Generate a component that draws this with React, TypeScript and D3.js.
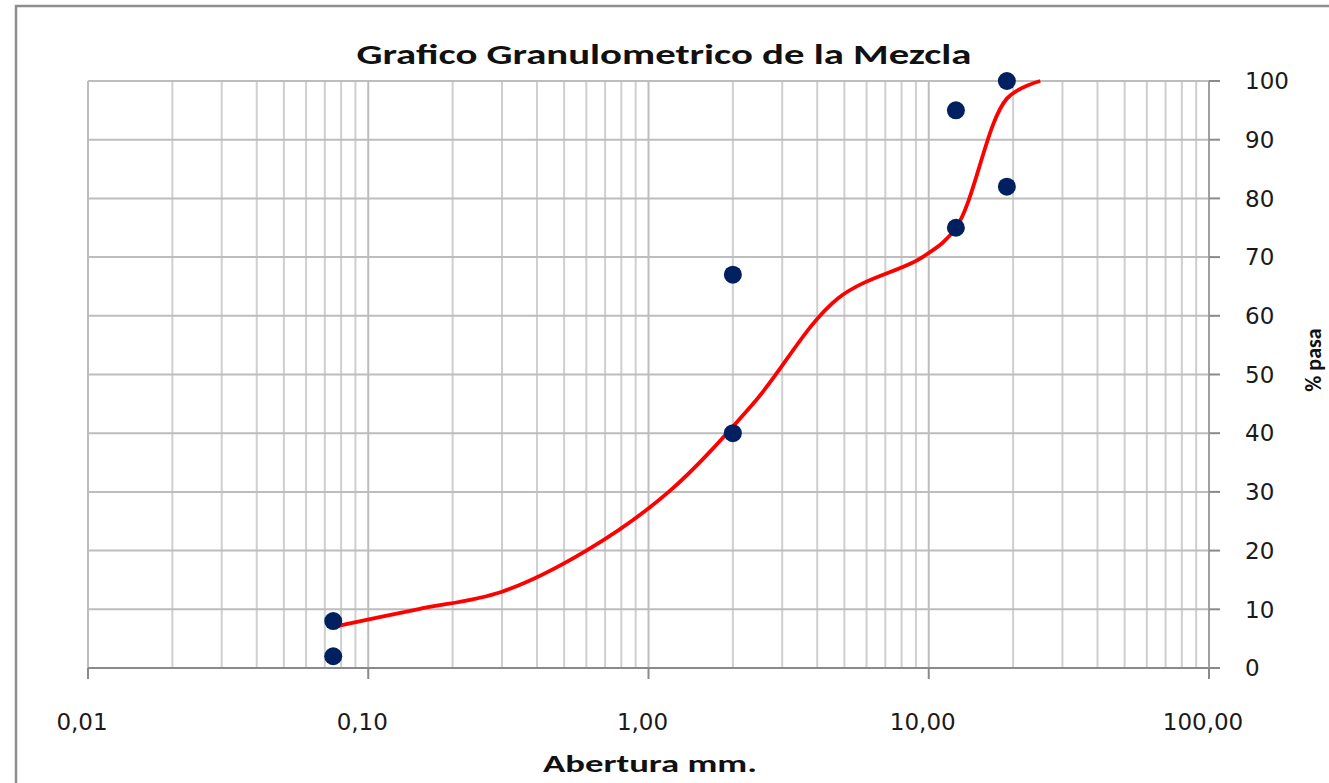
import React from "react";
import * as d3 from "d3";

const curveSizes = [0.075, 0.15, 0.3, 0.6, 1.18, 2.36, 4.75, 9.5, 12.5, 19, 25];
const curvePass = [7, 10, 13, 20, 30, 45, 63, 70, 75, 97, 100];

const limitSizes = [0.075, 0.075, 2, 2, 12.5, 12.5, 19, 19];
const limitPass = [8, 2, 67, 40, 95, 75, 100, 82];

const xTickValues = [0.01, 0.1, 1, 10, 100];
const xTickLabels = ["0,01", "0,10", "1,00", "10,00", "100,00"];
const yTickValues = [0, 10, 20, 30, 40, 50, 60, 70, 80, 90, 100];

const W = 1329;
const H = 783;
const M = { left: 88, right: 1209, top: 81, bottom: 668 };

export default function App() {
  const x = d3.scaleLog().domain([0.01, 100]).range([M.left, M.right]);
  const y = d3.scaleLinear().domain([0, 100]).range([M.bottom, M.top]);

  const minor: number[] = [];
  for (let e = -2; e < 2; e++) {
    for (let k = 2; k <= 9; k++) {
      minor.push(k * Math.pow(10, e));
    }
  }

  const line = d3
    .line<number>()
    .x((_, i) => x(curveSizes[i]))
    .y((d) => y(d))
    .curve(d3.curveCatmullRom.alpha(0.5));

  const grid = "#bdbdbd";
  const tickFont = "'DejaVu Sans', Verdana, sans-serif";
  const boldFont = "'Carlito', 'Liberation Sans Narrow', 'Open Sans', sans-serif";

  return (
    <svg
      width={W}
      height={H}
      style={{ position: "absolute", left: 0, top: 0, background: "#fff" }}
    >
      <rect x={16} y={6} width={W} height={H} fill="#fff" stroke="#8e8e8e" strokeWidth={2.5} />

      {/* minor vertical grid */}
      {minor.map((v, i) => (
        <line key={"m" + i} x1={x(v)} x2={x(v)} y1={M.top} y2={M.bottom} stroke="#cfcfcf" strokeWidth={2} />
      ))}
      {/* major vertical grid */}
      {xTickValues.map((v, i) => (
        <line key={"M" + i} x1={x(v)} x2={x(v)} y1={M.top} y2={M.bottom} stroke={grid} strokeWidth={2} />
      ))}
      {/* horizontal grid */}
      {yTickValues.map((v, i) => (
        <line key={"h" + i} x1={M.left} x2={M.right} y1={y(v)} y2={y(v)} stroke={grid} strokeWidth={2} />
      ))}

      {/* axes */}
      <line x1={M.left} x2={M.right + 8} y1={M.bottom} y2={M.bottom} stroke="#8a8a8a" strokeWidth={2} />
      <line x1={M.right} x2={M.right} y1={M.top} y2={M.bottom + 10} stroke="#a0a0a0" strokeWidth={2} />
      {xTickValues.map((v, i) => (
        <line key={"xt" + i} x1={x(v)} x2={x(v)} y1={M.bottom} y2={M.bottom + 11} stroke="#8a8a8a" strokeWidth={2} />
      ))}
      {yTickValues.map((v, i) => (
        <line key={"yt" + i} x1={M.right} x2={M.right + 11} y1={y(v)} y2={y(v)} stroke="#8a8a8a" strokeWidth={2} />
      ))}

      {/* tick labels */}
      {xTickValues.map((v, i) => (
        <text key={"xl" + i} x={x(v) - 6} y={730} textAnchor="middle" fontFamily={tickFont} fontSize={23} fill="#1a1a1a">
          {xTickLabels[i]}
        </text>
      ))}
      {yTickValues.map((v, i) => (
        <text key={"yl" + i} x={1245} y={y(v)} dy="0.36em" textAnchor="start" fontFamily={tickFont} fontSize={23} fill="#1a1a1a">
          {v}
        </text>
      ))}

      {/* curve */}
      <path d={line(curvePass) || ""} fill="none" stroke="#ff0000" strokeWidth={3.8} />

      {/* limit points */}
      {limitSizes.map((s, i) => (
        <circle key={"p" + i} cx={x(s)} cy={y(limitPass[i])} r={9} fill="#002060" />
      ))}

      {/* titles */}
      <text x={664} y={64} textAnchor="middle" fontFamily={boldFont} fontWeight="bold" fontSize={29} fill="#111" textLength={615} lengthAdjust="spacingAndGlyphs">
        Grafico Granulometrico de la Mezcla
      </text>
      <text x={650} y={772} textAnchor="middle" fontFamily={boldFont} fontWeight="bold" fontSize={25} fill="#111" textLength={214} lengthAdjust="spacingAndGlyphs">
        Abertura mm.
      </text>
      <text
        transform={`translate(1321, 360) rotate(-90)`}
        textAnchor="middle"
        fontFamily={boldFont}
        fontWeight="bold"
        fontSize={22}
        fill="#111"
      >
        % pasa
      </text>
    </svg>
  );
}
